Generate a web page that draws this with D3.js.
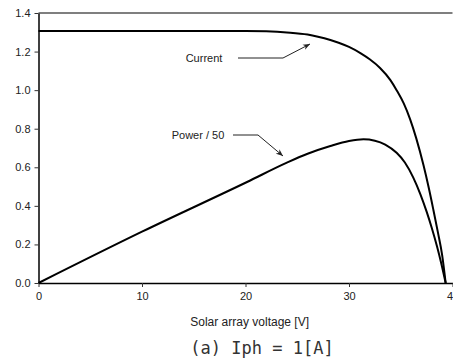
<!DOCTYPE html>
<html>
<head>
<meta charset="utf-8">
<script src="https://cdn.jsdelivr.net/npm/d3@7"></script>
<style>
    body { margin: 0; background: #fff; }
    svg { display: block; }
    .tick text { font-family: "Liberation Sans", Arial, sans-serif; font-size: 11px; fill: #222; }
</style>
</head>
<body>
<div id="chart"></div>
<script>

// voltage [V] / current [A]
var currentVolt = [0, 10, 20, 22, 24, 26, 27, 28.2, 29, 30, 31.1, 32, 33, 34, 34.6, 35.3, 35.9, 36.5, 37.2, 37.7, 38.15, 38.6, 39.0, 39.34];
var currentAmp  = [1.307, 1.307, 1.307, 1.305, 1.299, 1.288, 1.277, 1.26, 1.246, 1.224, 1.192, 1.16, 1.115, 1.052, 1.0, 0.93, 0.85, 0.75, 0.61, 0.495, 0.38, 0.26, 0.145, 0.0];

// voltage [V] / power divided by 50
var powerVolt = [0, 10, 20.2, 24, 26, 28.2, 30, 31.4, 32.5, 33.5, 34.6, 35.4, 36.2, 36.9, 37.5, 38.0, 38.5, 38.9, 39.34];
var powerVal  = [0, 0.266, 0.525, 0.624, 0.67, 0.71, 0.736, 0.745, 0.738, 0.718, 0.675, 0.625, 0.548, 0.46, 0.37, 0.285, 0.19, 0.105, 0];

var xTicks = [0, 10, 20, 30, 40];
var yTicks = [0, 0.2, 0.4, 0.6, 0.8, 1.0, 1.2, 1.4];


IVChart = function(_parentElement){
    this.parentElement = _parentElement;
    this.initVis();
}

IVChart.prototype.initVis = function() {
    var vis = this;

    vis.margin = {top: 13, right: 0.5, bottom: 77, left: 38.5};
    vis.width = 453 - vis.margin.left - vis.margin.right;
    vis.height = 360 - vis.margin.top - vis.margin.bottom;

    vis.svg = d3.select("#" + vis.parentElement).append("svg")
        .attr("width", 453)
        .attr("height", 360);

    vis.svg.append("defs").append("marker")
        .attr("id", "arrow")
        .attr("viewBox", "0 0 10 10")
        .attr("refX", 10).attr("refY", 5)
        .attr("markerWidth", 7).attr("markerHeight", 7)
        .attr("orient", "auto")
        .append("path")
        .attr("d", "M0,1 L10,5 L0,9 L3,5 Z")
        .attr("fill", "#222");

    vis.g = vis.svg.append("g")
        .attr("transform", "translate(" + vis.margin.left + "," + vis.margin.top + ")");

    vis.x = d3.scaleLinear().domain([0, 40]).range([0, vis.width]);
    vis.y = d3.scaleLinear().domain([0, 1.4]).range([vis.height, 0]);

    vis.updateVis();
}

IVChart.prototype.updateVis = function() {
    var vis = this;

    // top frame line
    vis.g.append("line")
        .attr("x1", 0).attr("x2", vis.width)
        .attr("y1", 0).attr("y2", 0)
        .attr("stroke", "#000").attr("stroke-width", 1.2);

    var xAxis = d3.axisBottom(vis.x).tickValues(xTicks).tickSize(4).tickSizeOuter(0).tickPadding(5)
        .tickFormat(d3.format("d"));
    var yAxis = d3.axisLeft(vis.y).tickValues(yTicks).tickSize(4).tickSizeOuter(0).tickPadding(4)
        .tickFormat(d3.format(".1f"));

    var gx = vis.g.append("g")
        .attr("transform", "translate(0," + vis.height + ")")
        .call(xAxis);
    var gy = vis.g.append("g").call(yAxis);

    [gx, gy].forEach(function(a) {
        a.select(".domain").attr("stroke", "#000").attr("stroke-width", 1.5);
        a.selectAll(".tick line").attr("stroke", "#333");
    });

    var line = d3.line()
        .x(function(d) { return vis.x(d[0]); })
        .y(function(d) { return vis.y(d[1]); })
        .curve(d3.curveMonotoneX);

    var curData = currentVolt.map(function(v, i) { return [v, currentAmp[i]]; });
    var powData = powerVolt.map(function(v, i) { return [v, powerVal[i]]; });

    vis.g.append("path")
        .datum(curData)
        .attr("d", line)
        .attr("fill", "none")
        .attr("stroke", "#000")
        .attr("stroke-width", 2);

    vis.g.append("path")
        .datum(powData)
        .attr("d", line)
        .attr("fill", "none")
        .attr("stroke", "#000")
        .attr("stroke-width", 2);

    // annotations
    var notes = [
        {label: "Current", tx: 204, ty: 62, pts: [[238, 58], [283, 58], [310, 44]]},
        {label: "Power / 50", tx: 198, ty: 139, pts: [[233, 135], [258, 135], [283, 156]]}
    ];

    notes.forEach(function(n) {
        vis.svg.append("text")
            .attr("x", n.tx).attr("y", n.ty)
            .attr("text-anchor", "middle")
            .attr("font-family", "Liberation Sans, Arial, sans-serif")
            .attr("font-size", 11)
            .attr("fill", "#222")
            .text(n.label);
        vis.svg.append("path")
            .attr("d", d3.line()(n.pts))
            .attr("fill", "none")
            .attr("stroke", "#222")
            .attr("stroke-width", 1)
            .attr("marker-end", "url(#arrow)");
    });

    vis.svg.append("text")
        .attr("x", vis.margin.left + vis.x(20.4)).attr("y", 326)
        .attr("text-anchor", "middle")
        .attr("font-family", "Liberation Sans, Arial, sans-serif")
        .attr("font-size", 12)
        .attr("fill", "#222")
        .text("Solar array voltage [V]");

    vis.svg.append("text")
        .attr("x", 262).attr("y", 354)
        .attr("text-anchor", "middle")
        .attr("font-family", "DejaVu Sans Mono, monospace")
        .attr("font-size", 17)
        .attr("fill", "#333")
        .text("(a) Iph = 1[A]");
}

var chart = new IVChart("chart");
</script>
</body>
</html>
